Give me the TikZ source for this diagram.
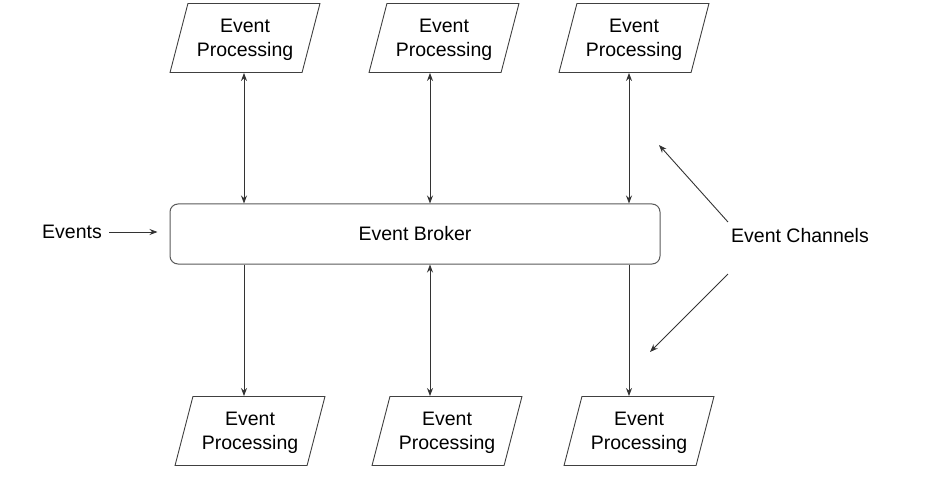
\documentclass[tikz,border=0pt]{standalone}
\usepackage{fontspec}
\setmainfont{Liberation Sans}
\usetikzlibrary{shapes.geometric,arrows.meta,positioning}

\newcommand{\proctext}{Event\\\raisebox{0pt}[\height][0pt]{Processing}}

\begin{document}
\begin{tikzpicture}[
    x=1pt, y=1pt,
    font=\fontsize{19.5}{24}\selectfont,
    processor/.style={trapezium, draw=black!75, line width=0.9pt, trapezium left angle=68, trapezium right angle=112, trapezium stretches=true, minimum width=150pt, minimum height=69pt, align=center, inner sep=0pt},
    broker/.style={rectangle, rounded corners=8pt, draw=black!65, line width=1pt, minimum width=490pt, minimum height=60pt},
    arrow/.style={line width=0.9pt, draw=black!80, -{Stealth[length=8pt,width=6pt]}},
    biarrow/.style={arrow, {Stealth[length=8pt,width=6pt]}-{Stealth[length=8pt,width=6pt]}},
    label/.style={inner sep=3pt}
]
    \useasboundingbox (0,0) rectangle (928,477);

    % Processors above and below the broker
    \node [processor] (topA) at (245,439) {\proctext};
    \node [processor] (topB) at (444,439) {\proctext};
    \node [processor] (topC) at (634,439) {\proctext};
    \node [processor] (botA) at (250,46) {\proctext};
    \node [processor] (botB) at (447,46) {\proctext};
    \node [processor] (botC) at (639,46) {\proctext};

    % Broker and side labels
    \node [broker] (broker) at (415,243) {Event Broker};
    \node [label] (events) at (72,245) {Events};
    \node [label] (channels) at (800,241) {Event Channels};

    % Channel columns
    \coordinate (colA) at (244,0);
    \coordinate (colB) at (430,0);
    \coordinate (colC) at (629,0);
    \coordinate (upTip) at (659,332);
    \coordinate (downTip) at (650,125);

    %--- Upper channels ---
    \draw [biarrow] (colA |- broker.north) -- (colA |- topA.south);
    \draw [biarrow] (colB |- broker.north) -- (colB |- topB.south);
    \draw [biarrow] (colC |- broker.north) -- (colC |- topC.south);

    %--- Lower channels ---
    \draw [arrow] (colA |- broker.south) -- (colA |- botA.north);
    \draw [biarrow] (colB |- broker.south) -- (colB |- botB.north);
    \draw [arrow] (colC |- broker.south) -- (colC |- botC.north);

    %--- Incoming events and channel pointers ---
    \draw [arrow, shorten <=4pt, shorten >=12pt] (events.east) -- (broker.west |- events.east);
    \draw [arrow] ([yshift=14pt]channels.west) -- (upTip);
    \draw [arrow] ([yshift=-38pt]channels.west) -- (downTip);

\end{tikzpicture}
\end{document}
